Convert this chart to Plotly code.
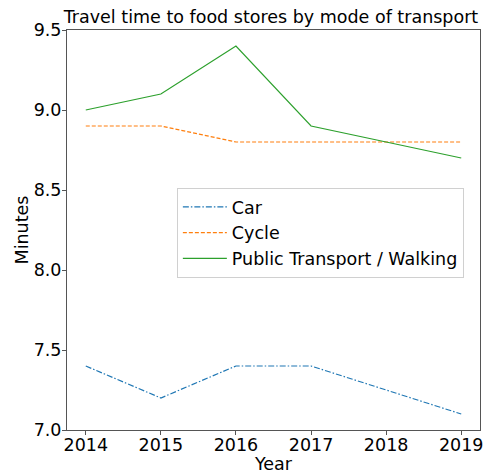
import plotly.graph_objects as go

years = [2014, 2015, 2016, 2017, 2018, 2019]
car = [7.4, 7.2, 7.4, 7.4, 7.25, 7.1]
cycle = [8.9, 8.9, 8.8, 8.8, 8.8, 8.8]
public = [9.0, 9.1, 9.4, 8.9, 8.8, 8.7]
y_ticks = [7.0, 7.5, 8.0, 8.5, 9.0, 9.5]

FONT = "DejaVu Sans"
FS = 17.5

fig = go.Figure()
fig.add_trace(go.Scatter(x=years, y=car, mode="lines", name="Car",
                         line=dict(color="#1f77b4", width=1.2, dash="6px,2px,1.5px,2px")))
fig.add_trace(go.Scatter(x=years, y=cycle, mode="lines", name="Cycle",
                         line=dict(color="#ff7f0e", width=1.2, dash="4px,2px")))
fig.add_trace(go.Scatter(x=years, y=public, mode="lines", name="Public Transport / Walking",
                         line=dict(color="#2ca02c", width=1.2)))

fig.update_layout(
    width=483, height=474,
    margin=dict(l=67, r=3, t=30, b=44, autoexpand=False),
    paper_bgcolor="white", plot_bgcolor="white",
    font=dict(family=FONT, size=FS, color="black"),
    title=dict(text="Travel time to food stores by mode of transport",
               x=0.561, xanchor="center", y=0.964, yanchor="middle",
               font=dict(family=FONT, size=FS, color="black")),
    legend=dict(x=0.266, y=0.605, xanchor="left", yanchor="top",
                bgcolor="rgba(255,255,255,0.8)", bordercolor="#d0d0d0", borderwidth=1,
                font=dict(family=FONT, size=FS, color="black"),
                itemwidth=44, tracegroupgap=0),
    showlegend=True,
)
fig.update_xaxes(range=[2013.75, 2019.25], tickmode="array", tickvals=years,
                 ticktext=[str(y) for y in years], ticklabeloverflow="allow",
                 showgrid=False, zeroline=False, showline=True, linecolor="#555",
                 linewidth=1, mirror=True, ticks="outside", ticklen=4, tickcolor="#555",
                 ticklabelstandoff=-5,
                 title=dict(text="Year", standoff=0, font=dict(size=FS)))
fig.update_yaxes(range=[7.0, 9.5], tickmode="array", tickvals=y_ticks,
                 ticktext=[f"{v:.1f}" for v in y_ticks], ticklabeloverflow="allow",
                 showgrid=False, zeroline=False, showline=True, linecolor="#555",
                 linewidth=1, mirror=True, ticks="outside", ticklen=4, tickcolor="#555",
                 ticklabelstandoff=-3,
                 title=dict(text="Minutes", standoff=0, font=dict(size=FS)))

fig.write_html("out.html", config={"displayModeBar": False},
               post_script="document.body.style.margin='0';")
